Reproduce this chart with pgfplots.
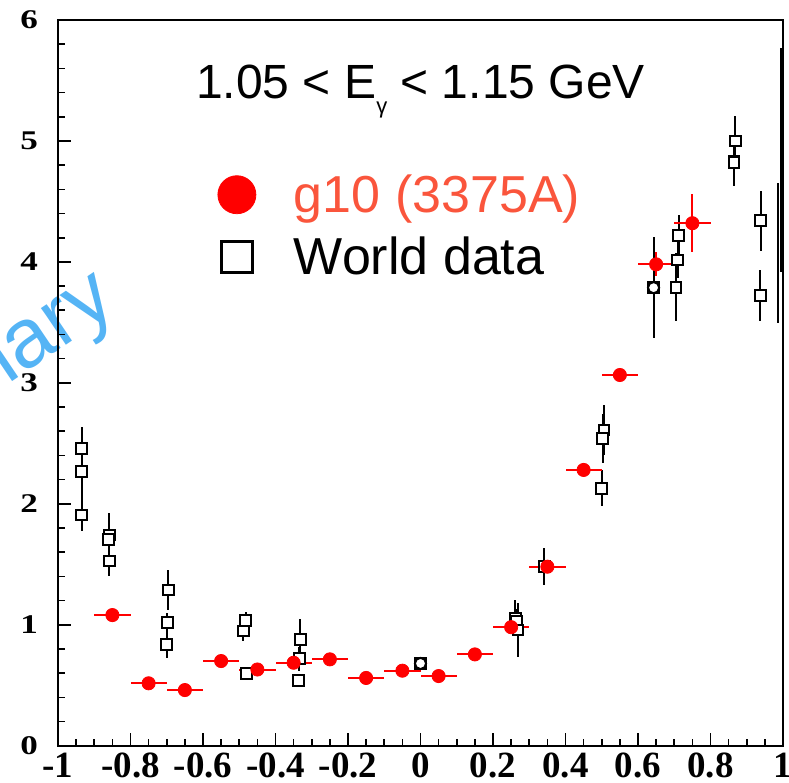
\documentclass[border=0pt]{standalone}
\usepackage{pgfplots}
\pgfplotsset{compat=1.18}
\usepackage{fontspec}
\setmainfont{Liberation Serif}
\setsansfont{Liberation Sans}
\newfontfamily\ytickfont[FakeStretch=1.3]{Liberation Serif}
\newfontfamily\xtickfont{Liberation Serif}
\definecolor{legred}{RGB}{250,85,60}
\definecolor{wmblue}{RGB}{85,180,245}

\pgfplotstableread{
x y ex ey
-0.85 1.08 0.05 0.02
-0.75 0.516 0.05 0.02
-0.65 0.46 0.05 0.02
-0.55 0.70 0.05 0.02
-0.45 0.63 0.05 0.02
-0.35 0.686 0.05 0.02
-0.25 0.714 0.05 0.02
-0.15 0.56 0.05 0.02
-0.05 0.62 0.05 0.02
0.05 0.576 0.05 0.02
0.15 0.755 0.05 0.02
0.25 0.98 0.05 0.03
0.35 1.48 0.05 0.04
0.45 2.28 0.05 0.04
0.55 3.065 0.05 0.06
0.65 3.98 0.05 0.10
0.75 4.32 0.05 0.24
}\gten

\pgfplotstableread{
x y ey
-0.935 2.46 0.175
-0.935 2.265 0.36
-0.935 1.907 0.13
-0.859 1.742 0.18
-0.861 1.706 0.05
-0.859 1.527 0.12
-0.696 1.287 0.165
-0.698 1.017 0.08
-0.700 0.838 0.11
-0.482 1.034 0.07
-0.489 0.948 0.08
-0.481 0.598 0.03
-0.332 0.88 0.17
-0.334 0.72 0.10
-0.337 0.537 0.03
0.000 0.68 0.03
0.261 1.053 0.15
0.264 1.03 0.10
0.269 0.957 0.22
0.342 1.48 0.155
0.506 2.61 0.21
0.503 2.54 0.20
0.500 2.128 0.15
0.643 3.787 0.42
0.712 4.22 0.17
0.709 4.016 0.15
0.705 3.79 0.28
0.868 5.00 0.21
0.865 4.834 0.21
0.865 4.82 0.05
0.939 4.34 0.25
0.937 3.72 0.21
}\world

\pgfplotstableread{
x y ey
0.000 0.68 0.03
0.643 3.787 0.42
}\worldcirc

\pgfplotstableread{
x y ey
0.995 4.843 0.926
}\edgethick

\pgfplotstableread{
x y ey
0.986 4.074 0.579
}\edgethin

\begin{document}
\begin{tikzpicture}
\node[rotate=34, anchor=base east, inner sep=0pt, text=wmblue, font=\sffamily\fontsize{42}{48}\selectfont] at (31pt,218.35pt) {Preliminary};
\begin{axis}[
  at={(0,0)}, anchor=south west,
  scale only axis, width=362.5pt, height=362.85pt,
  xmin=-1, xmax=1, ymin=0, ymax=6,
  axis line style={line width=1pt},
  xtick={-1,-0.8,-0.6,-0.4,-0.2,0,0.2,0.4,0.6,0.8,1},
  ytick={0,1,2,3,4,5,6},
  minor x tick num=3, minor y tick num=4,
  xtick pos=bottom, ytick pos=left,
  major tick length=6.5pt, minor tick length=3.5pt,
  every tick/.style={black, line width=0.8pt},
  /pgf/number format/assume math mode=true,
  xticklabel style={font=\xtickfont\bfseries\fontsize{18.5}{20}\selectfont},
  yticklabel style={font=\ytickfont\bfseries\fontsize{13.5}{15}\selectfont, xshift=-6.5pt},
  legend style={at={(axis cs:-0.56,4.76)}, anchor=north west, draw=none, fill=none,
    font=\sffamily\fontsize{26}{30}\selectfont, inner sep=0pt, row sep=7pt,
    /tikz/every odd column/.append style={column sep=17pt}},
  legend cell align=left,
  legend image code/.code={\draw[#1] plot coordinates {(0pt,0pt)};},
]
\addlegendimage{only marks, mark=*, mark size=9.5pt, red, mark options={fill=red, draw=red}}
\addlegendentry{\textcolor{legred}{g10 (3375A)}}
\addlegendimage{only marks, mark=square, mark size=7.75pt, black, mark options={line width=1.5pt}}
\addlegendentry{World data}

\addplot[forget plot, only marks, mark=square*, mark size=2.7pt,
  mark options={fill=white, draw=black, line width=1pt},
  error bars/.cd, y dir=both, y explicit, error mark=none,
  error bar style={line width=1pt, black}]
  table[x=x, y=y, y error=ey] {\world};
\addplot[forget plot, only marks, mark=o, mark size=2.8pt,
  mark options={fill=white, draw=black, line width=1pt},
  error bars/.cd, y dir=both, y explicit, error mark=none,
  error bar style={line width=1pt, black}]
  table[x=x, y=y, y error=ey] {\worldcirc};
\addplot[forget plot, only marks, mark=*, mark size=0pt, mark options={draw=none, fill=none},
  error bars/.cd, y dir=both, y explicit, error mark=none,
  error bar style={line width=1.6pt, draw=black}]
  table[x=x, y=y, y error=ey] {\edgethick};
\addplot[forget plot, only marks, mark=*, mark size=0pt, mark options={draw=none, fill=none},
  error bars/.cd, y dir=both, y explicit, error mark=none,
  error bar style={line width=0.7pt, draw=black}]
  table[x=x, y=y, y error=ey] {\edgethin};
\addplot[forget plot, only marks, mark=*, mark size=3.3pt,
  mark options={fill=red, draw=red},
  error bars/.cd, x dir=both, x explicit, y dir=both, y explicit, error mark=none,
  error bar style={line width=1pt, red}]
  table[x=x, y=y, x error=ex, y error=ey] {\gten};

\node[font=\sffamily\fontsize{24}{28}\selectfont, anchor=base] at (axis cs:0,5.353)
  {1.05 < E\raisebox{-7.4pt}{\fontsize{11}{13}\selectfont γ} < 1.15 GeV};
\end{axis}
\pgfresetboundingbox
\path[use as bounding box] (-29pt,-18.65pt) rectangle (365.5pt,372.85pt);
\end{tikzpicture}
\end{document}
